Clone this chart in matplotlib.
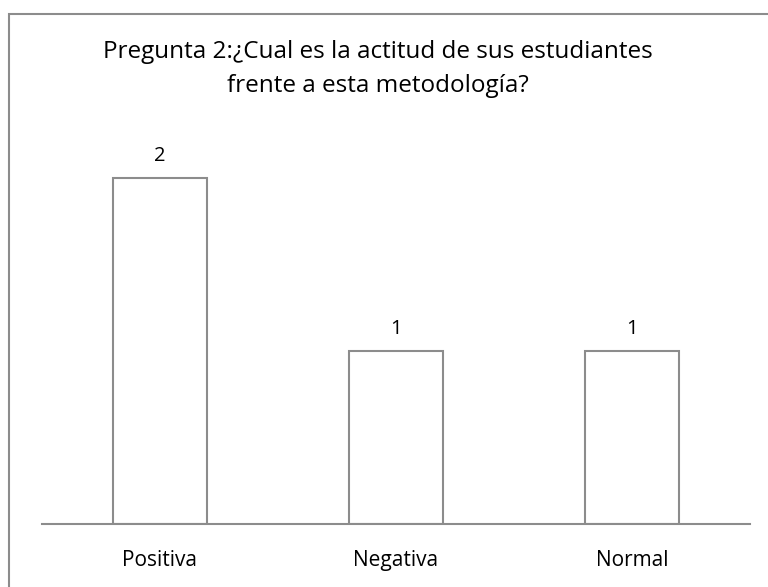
import matplotlib.pyplot as plt
from matplotlib.patches import Rectangle

categories = ['Positiva', 'Negativa', 'Normal']
values = [2, 1, 1]
title = 'Pregunta 2:¿Cual es la actitud de sus estudiantes\nfrente a esta metodología?'

plt.rcParams['font.family'] = ['Open Sans', 'DejaVu Sans']

W, H = 768, 587
fig = plt.figure(figsize=(W / 100, H / 100), dpi=100)

# outer frame (only top and left visible in the original crop)
fig.patches.append(Rectangle((9 / W, -0.1), 1.2, (H - 14) / H + 0.1,
                             transform=fig.transFigure, fill=False,
                             edgecolor='#8c8c8c', linewidth=1.5))

ax = fig.add_axes([42 / W, (H - 524) / H, (750 - 42) / W, (524 - 109) / H])
x = range(len(categories))
ax.bar(x, values, width=0.4, color='white', edgecolor='#8c8c8c', linewidth=1.5)
for i, v in zip(x, values):
    ax.text(i, v + 0.13, str(v), ha='center', va='center', fontsize=14.5)
ax.set_xlim(-0.5, 2.5)
ax.set_ylim(0, 2.4)
ax.set_xticks(list(x))
ax.set_xticklabels(categories, fontsize=15)
ax.tick_params(axis='x', length=0, pad=19)
ax.set_yticks([])
for s in ['top', 'right', 'left']:
    ax.spines[s].set_visible(False)
ax.spines['bottom'].set_color('#8c8c8c')
ax.spines['bottom'].set_linewidth(1.5)

fig.text(378 / W, 1 - 69 / H, title, ha='center', va='center', fontsize=17.5,
         linespacing=1.55)

fig.savefig('out.png', dpi=100)
